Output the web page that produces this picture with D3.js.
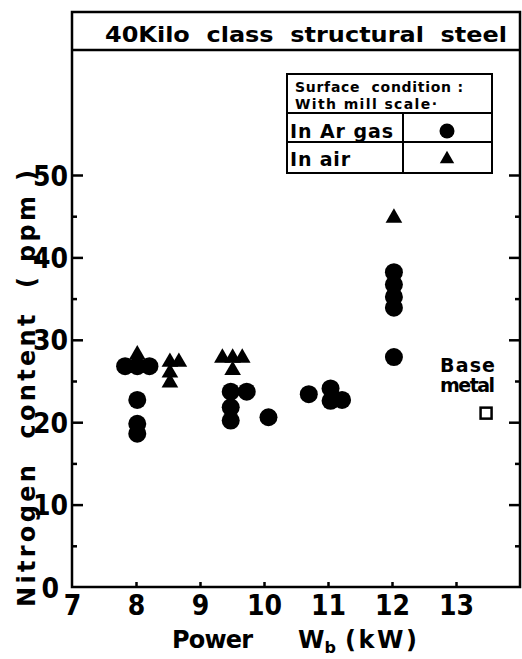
<!DOCTYPE html>
<html>
<head>
<meta charset="utf-8">
<script src="https://cdn.jsdelivr.net/npm/d3@7"></script>
<style>
  body { margin: 0; background: #fff; }
  svg text { font-family: "DejaVu Sans", sans-serif; fill: #000; white-space: pre; font-weight: bold; }
  .num { font-family: "DejaVu Sans Condensed", "DejaVu Sans", sans-serif; font-stretch: condensed; }
</style>
</head>
<body>
<svg id="chart"></svg>
<script>
const width = 522, height = 659;

// data: [power kW, nitrogen ppm]
const arGas = [
  [7.83, 26.8], [8.02, 26.8], [8.21, 26.8], [8.02, 22.7], [8.02, 19.8], [8.02, 18.6],
  [9.48, 23.7], [9.73, 23.7], [9.48, 21.8], [9.48, 20.2],
  [10.07, 20.6], [10.7, 23.4],
  [11.04, 24.1], [11.04, 22.6], [11.22, 22.7],
  [12.03, 38.2], [12.03, 36.7], [12.03, 35.2], [12.03, 33.9], [12.03, 27.9]
];
const inAir = [
  [8.02, 28.2], [8.53, 27.3], [8.67, 27.3], [8.53, 26.0], [8.53, 24.8],
  [9.35, 27.8], [9.51, 27.8], [9.66, 27.8], [9.51, 26.3],
  [12.03, 44.8]
];
const baseMetal = [[13.47, 21.1]];

const xTicks = [7, 8, 9, 10, 11, 12, 13];
const yMajor = [0, 10, 20, 30, 40, 50];
const yMinor = [5, 15, 25, 35, 45];
const rightTicks = [5, 10, 15, 20, 25, 30, 35, 40, 45, 50];

const plotL = 72, plotR = 520, plotT = 12, plotB = 587, titleBottom = 50;

const svg = d3.select("#chart")
    .attr("width", width)
    .attr("height", height);

const x = d3.scaleLinear().domain([7, 14]).range([plotL, plotR]);
const y = d3.scaleLinear().domain([0, 50]).range([plotB, plotB - 50 * 8.24]);

// frame and title box
svg.append("rect")
    .attr("x", plotL).attr("y", plotT)
    .attr("width", plotR - plotL).attr("height", plotB - plotT)
    .attr("fill", "none").attr("stroke", "#000").attr("stroke-width", 2.5);
svg.append("line")
    .attr("x1", plotL).attr("x2", plotR)
    .attr("y1", titleBottom).attr("y2", titleBottom)
    .attr("stroke", "#000").attr("stroke-width", 2.5);
svg.append("text")
    .attr("x", 105).attr("y", 42)
    .attr("textLength", 402).attr("lengthAdjust", "spacingAndGlyphs")
    .style("font-size", "22px")
    .text("40Kilo  class  structural  steel");

// axes
function styleAxis(g) {
  g.select(".domain").remove();
  g.selectAll(".tick line").attr("stroke", "#000").attr("stroke-width", 2.5);
}

svg.append("g")
    .attr("transform", `translate(${plotL},0)`)
    .call(d3.axisLeft(y).tickValues(yMajor).tickSizeInner(-11).tickPadding(4))
    .call(styleAxis)
    .call(g => g.selectAll(".tick text")
        .attr("class", "num").style("font-size", "28px").attr("dy", "0.36em")
        .attr("dx", d => d === 0 ? -9 : 0))
    .call(g => g.selectAll(".tick").filter(d => d === 0).select("line").remove());

svg.append("g")
    .attr("transform", `translate(${plotL},0)`)
    .call(d3.axisLeft(y).tickValues(yMinor).tickSizeInner(-5).tickFormat(""))
    .call(styleAxis);

svg.append("g")
    .attr("transform", `translate(${plotR},0)`)
    .call(d3.axisRight(y).tickValues(rightTicks).tickSizeInner(-5).tickFormat(""))
    .call(styleAxis)
    .call(g => g.selectAll(".tick line").attr("x2", d => d % 10 === 0 ? -11 : -5));

svg.append("g")
    .attr("transform", `translate(0,${plotB})`)
    .call(d3.axisBottom(x).tickValues(xTicks).tickFormat(d3.format("d"))
        .tickSizeInner(-5).tickPadding(8))
    .call(styleAxis)
    .call(g => g.selectAll(".tick text")
        .attr("class", "num").style("font-size", "28px").attr("dy", "0.72em"))
    .call(g => g.selectAll(".tick").filter(d => d === 7).select("line").remove());

// axis titles
svg.append("text")
    .attr("transform", `translate(35,607) rotate(-90)`)
    .attr("textLength", 437).attr("lengthAdjust", "spacing")
    .style("font-size", "24px")
    .text("Nitrogen  content  ( ppm )");

const xt = svg.append("text")
    .attr("y", 648)
    .style("font-size", "24px");
xt.append("tspan").attr("x", 172).attr("textLength", 81).text("Power");
xt.append("tspan").attr("x", 298).text("W");
xt.append("tspan").attr("dy", 5).style("font-size", "16px").text("b");
xt.append("tspan").attr("x", 345).attr("dy", -5).attr("textLength", 72).text("(kW)");

// marks
const sym = d3.symbol();
svg.append("g").selectAll("circle")
    .data(arGas).enter().append("circle")
    .attr("cx", d => x(d[0])).attr("cy", d => y(d[1]))
    .attr("r", 9).attr("fill", "#000");

svg.append("g").selectAll("path")
    .data(inAir).enter().append("path")
    .attr("transform", d => `translate(${x(d[0])},${y(d[1])})`)
    .attr("d", sym.type(d3.symbolTriangle).size(120)())
    .attr("fill", "#000");

svg.append("g").selectAll("rect")
    .data(baseMetal).enter().append("rect")
    .attr("x", d => x(d[0]) - 5.5).attr("y", d => y(d[1]) - 5.5)
    .attr("width", 11).attr("height", 11)
    .attr("fill", "none").attr("stroke", "#000").attr("stroke-width", 2.5);

svg.append("text").attr("x", 440).attr("y", 372).attr("textLength", 55)
    .style("font-size", "19px").text("Base");
svg.append("text").attr("x", 440).attr("y", 392).attr("textLength", 55)
    .style("font-size", "19px").text("metal");

// legend table
const lg = svg.append("g");
const lx0 = 287, lx1 = 492, ldiv = 403, ly = [74, 113, 142, 173];
lg.append("rect")
    .attr("x", lx0).attr("y", ly[0])
    .attr("width", lx1 - lx0).attr("height", ly[3] - ly[0])
    .attr("fill", "#fff").attr("stroke", "#000").attr("stroke-width", 2);
lg.selectAll(".row").data([ly[1], ly[2]]).enter().append("line")
    .attr("x1", lx0).attr("x2", lx1).attr("y1", d => d).attr("y2", d => d)
    .attr("stroke", "#000").attr("stroke-width", 2);
lg.append("line")
    .attr("x1", ldiv).attr("x2", ldiv).attr("y1", ly[1]).attr("y2", ly[3])
    .attr("stroke", "#000").attr("stroke-width", 2);
lg.append("text").attr("x", 295).attr("y", 92).attr("textLength", 168)
    .style("font-size", "14px").text("Surface  condition :");
lg.append("text").attr("x", 295).attr("y", 109).attr("textLength", 142)
    .style("font-size", "14px").text("With mill scale·");
lg.append("text").attr("x", 290).attr("y", 138).attr("textLength", 103)
    .style("font-size", "19px").text("In Ar gas");
lg.append("text").attr("x", 290).attr("y", 166).attr("textLength", 60)
    .style("font-size", "19px").text("In air");
lg.append("circle").attr("cx", 447).attr("cy", 131).attr("r", 7.5).attr("fill", "#000");
lg.append("path")
    .attr("transform", "translate(447,159)")
    .attr("d", sym.type(d3.symbolTriangle).size(90)())
    .attr("fill", "#000");
</script>
</body>
</html>
